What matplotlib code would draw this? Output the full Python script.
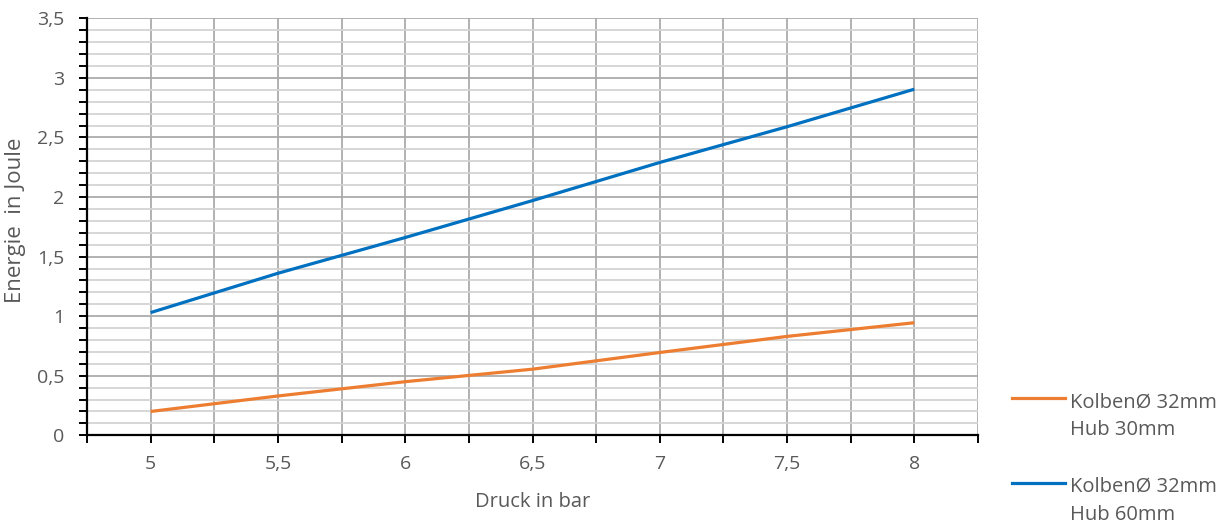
import matplotlib.pyplot as plt
from matplotlib.lines import Line2D
import numpy as np

# Druck in bar
druck = [5, 5.5, 6, 6.5, 7, 7.5, 8]
# Energie in Joule
energie_hub30 = [0.20, 0.33, 0.45, 0.555, 0.695, 0.83, 0.945]
energie_hub60 = [1.03, 1.36, 1.66, 1.97, 2.29, 2.59, 2.905]

labels = ["KolbenØ 32mm\nHub 30mm", "KolbenØ 32mm\nHub 60mm"]
colors = ["#ED7D31", "#0070C0"]

plt.rcParams['font.family'] = ['Open Sans', 'DejaVu Sans']
txt = "#595959"

fig = plt.figure(figsize=(12.3, 5.23), dpi=100)
ax = fig.add_axes([87 / 1230, 1 - 435.3 / 523, 891 / 1230, 417 / 523])

for y, c in zip([energie_hub30, energie_hub60], colors):
    ax.plot(druck, y, color=c, lw=2.3, solid_capstyle='butt', zorder=3)

ax.set_xlim(4.75, 8.25)
ax.set_ylim(0, 3.5)

xt = np.arange(4.75, 8.26, 0.25)
ax.set_xticks(xt)
ax.set_xticklabels([f"{v:g}".replace('.', ',') if abs(v * 2 - round(v * 2)) < 1e-9 and v > 4.9 else ""
                    for v in xt])
yt = np.arange(0, 3.51, 0.5)
ax.set_yticks(yt)
ax.set_yticklabels([f"{v:g}".replace('.', ',') for v in yt])
ax.set_yticks(np.arange(0, 3.51, 0.1), minor=True)

ax.grid(which='major', color='#ababab', lw=1.3)
ax.grid(which='minor', axis='y', color='#d3d3d3', lw=1.3)
ax.set_axisbelow(True)

for s in ['top', 'right']:
    ax.spines[s].set_visible(False)
for s in ['left', 'bottom']:
    ax.spines[s].set_color('black')
    ax.spines[s].set_linewidth(1.6)

ax.tick_params(which='both', direction='out', length=5.5, width=1.4, color='black',
               labelcolor=txt, labelsize=14)
ax.tick_params(axis='y', pad=11)
ax.tick_params(axis='x', pad=9)

ax.set_xlabel("Druck in bar", color=txt, fontsize=14.5)
ax.set_ylabel("Energie  in Joule", color=txt, fontsize=16)
ax.xaxis.set_label_coords(0.5, -0.136)
ax.yaxis.set_label_coords(-0.0685, 0.516)

# legend on the right
for i, (lab, c) in enumerate(zip(labels, colors)):
    yline = 1 - (398 + 84.5 * i) / 523
    fig.add_artist(Line2D([1012 / 1230, 1065 / 1230], [yline, yline], color=c, lw=2.3))
    # baseline of the last text line
    fig.text(1070 / 1230, yline - 37 / 523, lab, color=txt, fontsize=14.5,
             va='baseline', ha='left', linespacing=1.5)

fig.savefig("out.png", dpi=100)
